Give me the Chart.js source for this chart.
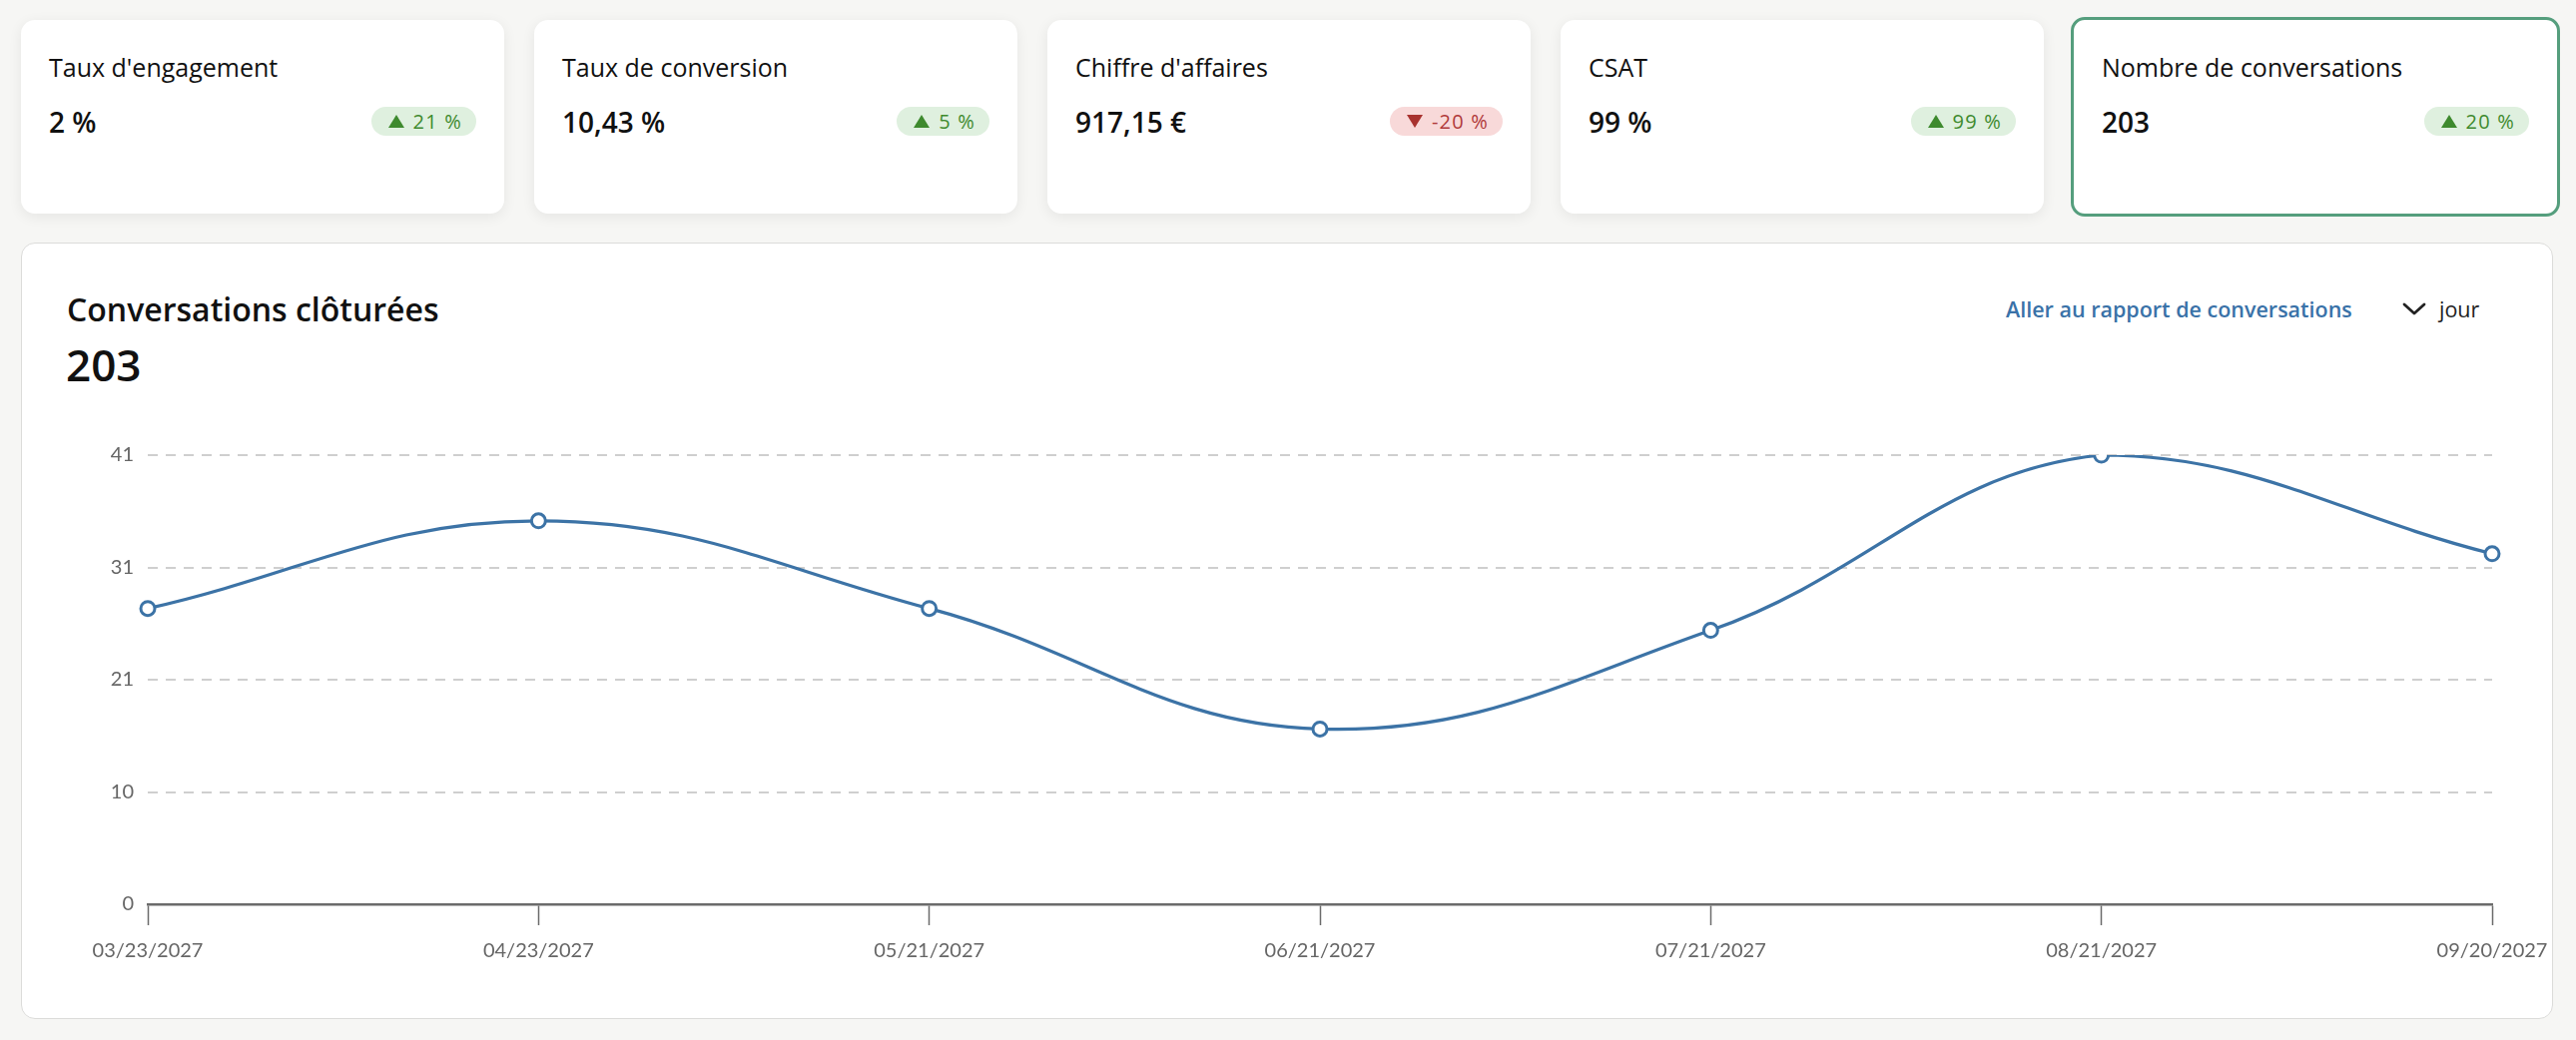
<!DOCTYPE html>
<html lang="fr">
<head>
<meta charset="utf-8">
<script src="https://cdn.jsdelivr.net/npm/chart.js@4.4.1/dist/chart.umd.min.js"></script>
<style>
  html, body { margin:0; padding:0; }
  body { width:2580px; height:1042px; background:#f6f6f4; position:relative; overflow:hidden; font-family:"Open Sans","Noto Sans",sans-serif; color:#111; }
  .kpi { position:absolute; top:20px; width:484px; height:194px; background:#fff; border-radius:14px; box-shadow:0 3px 14px rgba(0,0,0,0.07); box-sizing:border-box; }
  .kpi.active { top:17px; height:200px; border:3px solid #559e7d; box-shadow:none; }
  .kpi .t { position:absolute; left:28px; top:35px; font-size:25px; line-height:1; font-weight:400; white-space:nowrap; }
  .kpi .v { position:absolute; left:28px; top:88px; font-size:28px; line-height:1; font-weight:600; white-space:nowrap; }
  .badge { position:absolute; right:28px; top:87px; height:29px; line-height:29px; padding:0 14px 0 17px; border-radius:15px; font-size:20px; letter-spacing:1.2px; white-space:nowrap; }
  .up { background:#dff0df; color:#3e8a2e; }
  .down { background:#f8d9d9; color:#b03a3a; }
  .tri { display:inline-block; width:0; height:0; margin-right:9px; vertical-align:middle; position:relative; top:-2px; }
  .up .tri { border-left:8px solid transparent; border-right:8px solid transparent; border-bottom:13px solid #3e8a2e; }
  .down .tri { border-left:8px solid transparent; border-right:8px solid transparent; border-top:13px solid #a8322f; }
  .panel { position:absolute; left:21px; top:243px; width:2536px; height:778px; background:#fff; border:1.5px solid #dcdcda; border-radius:14px; box-sizing:border-box; }
  .ptitle { position:absolute; left:45px; top:50px; font-size:32px; line-height:1; font-weight:600; white-space:nowrap; }
  .ptotal { position:absolute; left:44px; top:99px; font-size:44px; line-height:1; font-weight:600; white-space:nowrap; }
  .link { position:absolute; left:1987px; top:55px; font-size:21.5px; line-height:1; font-weight:600; color:#3a72a8; white-space:nowrap; }
  .jour { position:absolute; left:2421px; top:55px; font-size:21.5px; line-height:1; color:#222; white-space:nowrap; }
  .chev { position:absolute; left:2384px; top:59px; }
  #wrap { position:absolute; left:60px; top:420px; width:2520px; height:560px; }
</style>
</head>
<body>
<div id="kpis"></div>
<div class="panel">
  <div class="ptitle">Conversations clôturées</div>
  <div class="ptotal" id="total"></div>
  <div class="link">Aller au rapport de conversations</div>
  <svg class="chev" width="24" height="14" viewBox="0 0 24 14"><polyline points="2,2 12,11 22,2" fill="none" stroke="#222" stroke-width="2.8" stroke-linecap="round" stroke-linejoin="round"/></svg>
  <div class="jour">jour</div>
</div>
<div id="wrap"><canvas id="c" width="2520" height="560" style="width:2520px;height:560px"></canvas></div>
<script>
// KPI cards
const kpiTitles = ["Taux d'engagement", "Taux de conversion", "Chiffre d'affaires", "CSAT", "Nombre de conversations"];
const kpiValues = ["2 %", "10,43 %", "917,15 €", "99 %", "203"];
const kpiChanges = [21, 5, -20, 99, 20];

// Chart data
const dateLabels = ["03/23/2027", "04/23/2027", "05/21/2027", "06/21/2027", "07/21/2027", "08/21/2027", "09/20/2027"];
const closedConversations = [27, 35, 27, 16, 25, 41, 32];
const chartTitle = "Conversations clôturées";

const kpiLefts = [21, 535, 1049, 1563, 2074];
const kc = document.getElementById('kpis');
kpiTitles.forEach((t, i) => {
  const d = document.createElement('div');
  const active = i === kpiTitles.length - 1;
  d.className = 'kpi' + (active ? ' active' : '');
  d.style.left = kpiLefts[i] + 'px';
  if (active) d.style.width = '490px';
  const ch = kpiChanges[i];
  const up = ch >= 0;
  d.innerHTML = '<div class="t"></div><div class="v"></div><div class="badge ' + (up ? 'up' : 'down') + '"><span class="tri"></span>' + ch + ' %</div>';
  d.querySelector('.t').textContent = t;
  d.querySelector('.v').textContent = kpiValues[i];
  kc.appendChild(d);
});

document.getElementById('total').textContent = closedConversations.reduce((a, b) => a + b, 0);

const yMax = Math.max(...closedConversations);
const tickFont = { family: 'Lato, "Open Sans", sans-serif', size: 20 };

new Chart(document.getElementById('c'), {
  type: 'line',
  data: {
    labels: dateLabels,
    datasets: [{
      label: chartTitle,
      data: closedConversations,
      borderColor: '#3c73a6',
      borderWidth: 3.2,
      tension: 0.4,
      pointRadius: 7,
      pointBorderWidth: 3,
      pointBackgroundColor: '#ffffff',
      pointBorderColor: '#3c73a6',
      fill: false
    }]
  },
  options: {
    responsive: false,
    animation: false,
    devicePixelRatio: 1,
    layout: { padding: { top: 36, right: 84, left: 0, bottom: 0 } },
    plugins: { legend: { display: false }, tooltip: { enabled: false } },
    scales: {
      x: {
        offset: false,
        grid: { drawOnChartArea: false, drawTicks: true, tickLength: 21, tickColor: '#6b6b6b', tickWidth: 1.5 },
        border: { display: true, color: '#6b6b6b', width: 2.5 },
        ticks: { autoSkip: false, maxRotation: 0, minRotation: 0, padding: 14, color: '#666', font: tickFont },
        afterFit(s) { s.height = 74; }
      },
      y: {
        min: 0,
        max: yMax,
        ticks: { stepSize: yMax / 4, callback: v => Math.round(v), padding: 14, color: '#666', font: tickFont },
        grid: { color: ctx => (ctx.tick && ctx.tick.value === 0) ? 'rgba(0,0,0,0)' : '#cfcfcf', lineWidth: 2, drawTicks: false },
        border: { display: false, dash: [10, 8] },
        afterFit(s) { s.width = 88; }
      }
    }
  }
});
</script>
</body>
</html>
